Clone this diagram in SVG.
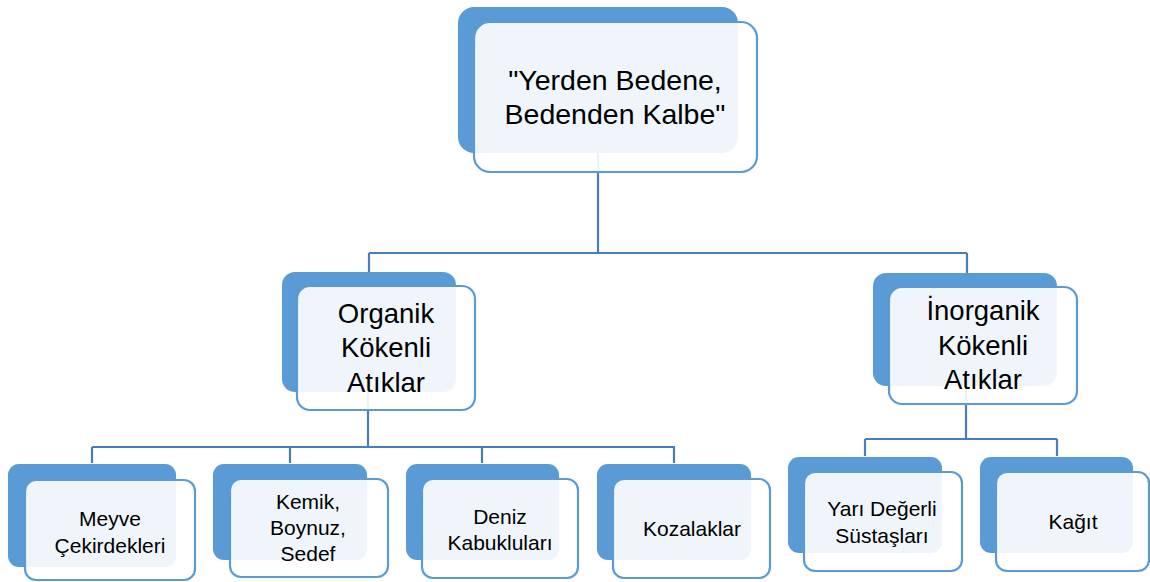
<svg xmlns="http://www.w3.org/2000/svg" width="1150" height="582" viewBox="0 0 1150 582">
<style>
.back{fill:#5B9BD5}
.front{fill:#FFFFFF;fill-opacity:0.9;stroke:#5B9BD5;stroke-width:2.2}
.con{fill:none;stroke:#4A7EBB;stroke-width:2.2}
text{font-family:"Liberation Sans",Arial,sans-serif;fill:#000;text-anchor:middle}
.t1{font-size:28.5px}
.t2{font-size:27.5px}
.t3{font-size:21px}
</style>
<rect width="1150" height="582" fill="#FFFFFF"/>
<g id="connectors">
<path class="con" d="M598,153 V253 M369,253 H967 M369,253 V273 M967,253 V273"/>
<path class="con" d="M368,392 V447 M92,447 H675 M92,447 V463 M290,447 V463 M482,447 V463 M674,447 V463"/>
<path class="con" d="M966,386 V439 M865,439 H1057 M865,439 V456 M1057,439 V456"/>
</g>
<g id="root">
<rect class="back" x="458" y="7" width="280" height="146" rx="16"/>
<rect class="front" x="474" y="22" width="283" height="150" rx="16"/>
<text class="t1" x="615" y="90">"Yerden Bedene,</text>
<text class="t1" x="615" y="124">Bedenden Kalbe"</text>
</g>
<g id="organik">
<rect class="back" x="282" y="272" width="174" height="120" rx="13"/>
<rect class="front" x="297" y="286" width="178" height="124" rx="13"/>
<text class="t2" x="386" y="323">Organik</text>
<text class="t2" x="386" y="357">Kökenli</text>
<text class="t2" x="386" y="392">Atıklar</text>
</g>
<g id="inorganik">
<rect class="back" x="873" y="273" width="184" height="113" rx="13"/>
<rect class="front" x="889" y="287" width="188" height="117" rx="13"/>
<text class="t2" x="983" y="320">İnorganik</text>
<text class="t2" x="983" y="355">Kökenli</text>
<text class="t2" x="983" y="389">Atıklar</text>
</g>
<g id="meyve">
<rect class="back" x="8" y="464" width="168" height="103" rx="11"/>
<rect class="front" x="25" y="480" width="170" height="100" rx="11"/>
<text class="t3" x="110" y="526">Meyve</text>
<text class="t3" x="110" y="553">Çekirdekleri</text>
</g>
<g id="kemik">
<rect class="back" x="213" y="464" width="154" height="96" rx="11"/>
<rect class="front" x="230" y="479" width="158" height="98" rx="11"/>
<text class="t3" x="308" y="509">Kemik,</text>
<text class="t3" x="308" y="535">Boynuz,</text>
<text class="t3" x="308" y="561">Sedef</text>
</g>
<g id="deniz">
<rect class="back" x="406" y="464" width="153" height="96" rx="11"/>
<rect class="front" x="422" y="479" width="156" height="99" rx="11"/>
<text class="t3" x="500" y="524">Deniz</text>
<text class="t3" x="500" y="550">Kabukluları</text>
</g>
<g id="kozalaklar">
<rect class="back" x="597" y="464" width="154" height="96" rx="11"/>
<rect class="front" x="613" y="479" width="157" height="99" rx="11"/>
<text class="t3" x="692" y="536">Kozalaklar</text>
</g>
<g id="yari">
<rect class="back" x="788" y="457" width="154" height="96" rx="11"/>
<rect class="front" x="804" y="472" width="158" height="99" rx="11"/>
<text class="t3" x="882" y="516">Yarı Değerli</text>
<text class="t3" x="882" y="543">Süstaşları</text>
</g>
<g id="kagit">
<rect class="back" x="980" y="457" width="153" height="96" rx="11"/>
<rect class="front" x="996" y="472" width="153" height="99" rx="11"/>
<text class="t3" x="1073" y="529">Kağıt</text>
</g>
</svg>
